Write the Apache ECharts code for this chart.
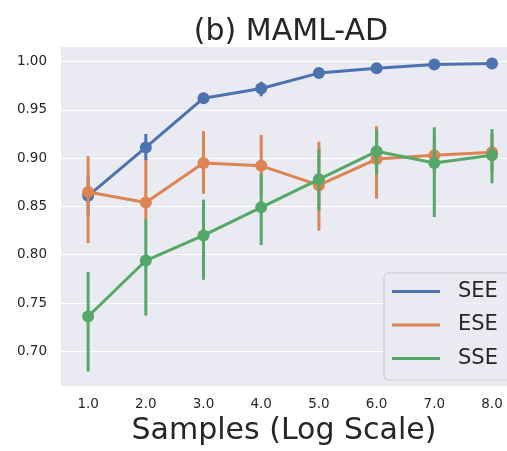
<!DOCTYPE html>
<html>
<head>
<meta charset="utf-8">
<script src="https://cdn.jsdelivr.net/npm/echarts@6/dist/echarts.min.js"></script>
<style>
	html, body { margin: 0; padding: 0; background: #fff; }
	#chart { width: 507px; height: 451px; }
</style>
</head>
<body>
<div id="chart"></div>
<script>
var samples = [1, 2, 3, 4, 5, 6, 7, 8];
var yTicks = [0.70, 0.75, 0.80, 0.85, 0.90, 0.95, 1.00];

// mean values
var see = [0.861, 0.911, 0.962, 0.972, 0.988, 0.993, 0.997, 0.998];
var ese = [0.865, 0.854, 0.895, 0.892, 0.872, 0.899, 0.903, 0.906];
var sse = [0.736, 0.794, 0.820, 0.849, 0.878, 0.907, 0.895, 0.903];

// error bar ends
var seeLo = [0.840, 0.898, 0.957, 0.964, 0.985, 0.990, 0.994, 0.996];
var seeHi = [0.882, 0.925, 0.967, 0.979, 0.991, 0.996, 0.999, 1.000];
var eseLo = [0.812, 0.837, 0.863, 0.862, 0.825, 0.858, 0.884, 0.886];
var eseHi = [0.902, 0.898, 0.928, 0.924, 0.917, 0.933, 0.922, 0.925];
var sseLo = [0.679, 0.737, 0.774, 0.810, 0.846, 0.883, 0.839, 0.874];
var sseHi = [0.782, 0.837, 0.857, 0.884, 0.909, 0.930, 0.932, 0.930];

var blue = '#4c72b0', orange = '#dd8452', green = '#55a868';
var textColor = '#262626';
var font = 'DejaVu Sans';

function pts(vals) {
	var out = [];
	for (var i = 0; i < samples.length; i++) out.push([samples[i], vals[i]]);
	return out;
}
function bars(lo, hi) {
	var out = [];
	for (var i = 0; i < samples.length; i++) out.push([samples[i], lo[i], hi[i]]);
	return out;
}
function errSeries(lo, hi, color, z) {
	return {
		type: 'custom',
		z: z,
		silent: true,
		data: bars(lo, hi),
		encode: { x: 0, y: [1, 2] },
		renderItem: function (params, api) {
			var a = api.coord([api.value(0), api.value(1)]);
			var b = api.coord([api.value(0), api.value(2)]);
			return {
				type: 'line',
				shape: { x1: a[0], y1: a[1], x2: b[0], y2: b[1] },
				style: { stroke: color, lineWidth: 3 }
			};
		}
	};
}
function lineSeries(name, vals, color, z) {
	return {
		name: name,
		type: 'line',
		z: z,
		data: pts(vals),
		symbol: 'circle',
		symbolSize: 12,
		showSymbol: true,
		itemStyle: { color: color },
		lineStyle: { color: color, width: 3 },
		animation: false
	};
}

var myChart = echarts.init(document.getElementById('chart'));
var option = {
	animation: false,
	title: {
		text: '(b) MAML-AD',
		left: 286,
		textAlign: 'center',
		top: 12,
		textStyle: { fontFamily: font, fontSize: 30, fontWeight: 'normal', color: textColor }
	},
	grid: {
		left: 61,
		right: 0,
		top: 47,
		bottom: 60,
		show: true,
		backgroundColor: '#eaeaf2',
		borderWidth: 0
	},
	xAxis: {
		type: 'value',
		min: 0.53,
		max: 8.26,
		name: 'Samples (Log Scale)',
		nameLocation: 'middle',
		nameGap: 28,
		nameTextStyle: { fontFamily: font, fontSize: 30, color: textColor },
		axisLine: { show: false },
		axisTick: { show: false, customValues: samples },
		splitLine: { show: false },
		axisLabel: {
			customValues: samples,
			margin: 11,
			fontFamily: font,
			fontSize: 13.5,
			color: textColor,
			formatter: function (v) { return v.toFixed(1); }
		}
	},
	yAxis: {
		type: 'value',
		min: 0.664,
		max: 1.015,
		axisLine: { show: false },
		axisTick: { show: false, customValues: yTicks },
		splitLine: { show: true, lineStyle: { color: '#ffffff', width: 1.2 } },
		axisLabel: {
			customValues: yTicks,
			margin: 14,
			fontFamily: font,
			fontSize: 13.5,
			color: textColor,
			formatter: function (v) { return v.toFixed(2); }
		}
	},
	legend: {
		data: ['SEE', 'ESE', 'SSE'],
		orient: 'vertical',
		left: 384,
		top: 273,
		padding: [6, 30, 9, 8],
		itemGap: 8.5,
		itemWidth: 48,
		itemHeight: 3,
		icon: 'rect',
		backgroundColor: 'rgba(234,234,242,0.8)',
		borderColor: '#cccccc',
		borderWidth: 1,
		borderRadius: 4,
		textStyle: { fontFamily: font, fontSize: 21, color: textColor, lineHeight: 25, padding: [0, 0, 0, 13] }
	},
	series: [
		errSeries(seeLo, seeHi, blue, 2),
		lineSeries('SEE', see, blue, 3),
		errSeries(eseLo, eseHi, orange, 4),
		lineSeries('ESE', ese, orange, 5),
		errSeries(sseLo, sseHi, green, 6),
		lineSeries('SSE', sse, green, 7)
	]
};
myChart.setOption(option);
</script>
</body>
</html>
